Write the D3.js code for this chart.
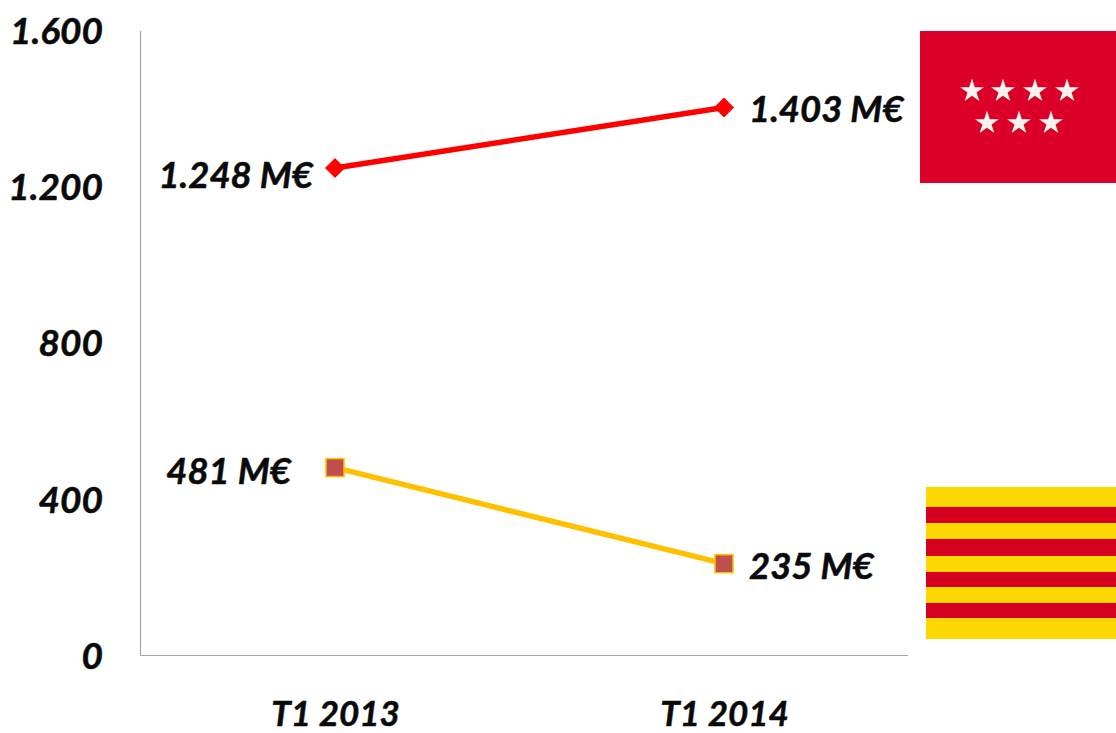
<!DOCTYPE html>
<html>
<head>
<meta charset="utf-8">
<script src="https://cdn.jsdelivr.net/npm/d3@7"></script>
<style>
    body { margin: 0; background: #fff; overflow: hidden; }
    svg { display: block; }
    text { font-family: Lato, "Open Sans", sans-serif; font-weight: 700; font-style: italic; fill: #0a0a0a; stroke: #0a0a0a; stroke-width: 0.5px; }
</style>
</head>
<body>
<div id="chart"></div>
<script>
// Chart values
const periods = ["T1 2013", "T1 2014"];
const madridValues = [1248, 1403];
const cataloniaValues = [481, 235];
const madridLabels = ["1.248 M€", "1.403 M€"];
const cataloniaLabels = ["481 M€", "235 M€"];
const yTicks = [0, 400, 800, 1200, 1600];

const width = 1116, height = 733;

const svg = d3.select("#chart").append("svg")
    .attr("width", width)
    .attr("height", height);

// Scales
const x = d3.scalePoint().domain(periods).range([335, 724]);
const y = d3.scaleLinear().domain([0, 1600]).range([655.5, 30.5]);

// Spanish thousands separator on the ticks
const tickFormat = d => d3.format(",")(d).replace(",", ".");

// Axes
const yAxis = d3.axisLeft(y).tickValues(yTicks).tickFormat(tickFormat).tickSize(0).tickPadding(37);
svg.append("g")
    .attr("class", "y-axis")
    .attr("transform", "translate(140,0)")
    .call(yAxis)
    .call(g => g.select(".domain").attr("stroke", "#a6a6a6").attr("stroke-width", 1.2))
    .selectAll("text")
    .style("font-size", "37px")
    .attr("dy", "0.35em");

const xAxis = d3.axisBottom(x).tickSize(0).tickPadding(46);
svg.append("g")
    .attr("class", "x-axis")
    .attr("transform", "translate(0,655)")
    .call(xAxis)
    .call(g => g.select(".domain").remove())
    .selectAll("text")
    .style("font-size", "35px");

// Baseline runs across the whole plot, not only between the two points
svg.append("line")
    .attr("x1", 140).attr("x2", 908)
    .attr("y1", y(0)).attr("y2", y(0))
    .attr("stroke", "#a6a6a6")
    .attr("stroke-width", 1.2);

// Lines
const line = d3.line()
    .x((d, i) => x(periods[i]))
    .y(d => y(d));

svg.append("path")
    .attr("d", line(madridValues))
    .attr("fill", "none")
    .attr("stroke", "#ff0000")
    .attr("stroke-width", 5.5);

svg.append("path")
    .attr("d", line(cataloniaValues))
    .attr("fill", "none")
    .attr("stroke", "#ffc000")
    .attr("stroke-width", 5.5);

// Markers
svg.selectAll(".madrid-marker")
    .data(madridValues)
    .enter()
    .append("path")
    .attr("class", "madrid-marker")
    .attr("d", "M0,-10L10,0L0,10L-10,0Z")
    .attr("transform", (d, i) => `translate(${x(periods[i])},${y(d)})`)
    .attr("fill", "#ff0000");

svg.selectAll(".catalonia-marker")
    .data(cataloniaValues)
    .enter()
    .append("rect")
    .attr("class", "catalonia-marker")
    .attr("x", (d, i) => x(periods[i]) - 9)
    .attr("y", d => y(d) - 9)
    .attr("width", 18)
    .attr("height", 18)
    .attr("fill", "#c0504d")
    .attr("stroke", "#ffc000")
    .attr("stroke-width", 1.5);

// Value labels
const labelOffsets = [{dx: -22, anchor: "end"}, {dx: 26, anchor: "start"}];

svg.selectAll(".madrid-label")
    .data(madridLabels)
    .enter()
    .append("text")
    .attr("class", "madrid-label")
    .attr("x", (d, i) => i == 0 ? x(periods[i]) - 22 : x(periods[i]) + 25)
    .attr("y", (d, i) => y(madridValues[i]) + (i == 0 ? 20 : 15))
    .attr("text-anchor", (d, i) => labelOffsets[i].anchor)
    .style("font-size", "36.5px")
    .text(d => d);

svg.selectAll(".catalonia-label")
    .data(cataloniaLabels)
    .enter()
    .append("text")
    .attr("class", "catalonia-label")
    .attr("x", (d, i) => i == 0 ? x(periods[i]) - 44 : x(periods[i]) + 25)
    .attr("y", (d, i) => y(cataloniaValues[i]) + (i == 0 ? 16 : 15))
    .attr("text-anchor", (d, i) => labelOffsets[i].anchor)
    .style("font-size", "36.5px")
    .text(d => d);

// Flag of Madrid
svg.append("rect")
    .attr("x", 920).attr("y", 31)
    .attr("width", 196).attr("height", 152)
    .attr("fill", "#dc0028");

const starX = [972, 1003, 1035, 1067, 987, 1019, 1051];
const starY = [91, 91, 91, 91, 123, 123, 123];
const star = d3.symbol(d3.symbolStar, 175);

svg.selectAll(".star")
    .data(starX)
    .enter()
    .append("path")
    .attr("class", "star")
    .attr("d", star)
    .attr("transform", (d, i) => `translate(${d},${starY[i]})`)
    .attr("fill", "#f7f3f3");

// Flag of Catalonia
svg.append("rect")
    .attr("x", 926).attr("y", 487)
    .attr("width", 190).attr("height", 152)
    .attr("fill", "#fdd800");

const stripeTop = [507, 539, 572, 603];
const stripeBottom = [523, 556, 587, 618];

svg.selectAll(".stripe")
    .data(stripeTop)
    .enter()
    .append("rect")
    .attr("class", "stripe")
    .attr("x", 926)
    .attr("y", d => d)
    .attr("width", 190)
    .attr("height", (d, i) => stripeBottom[i] - d)
    .attr("fill", "#d5001f");
</script>
</body>
</html>
